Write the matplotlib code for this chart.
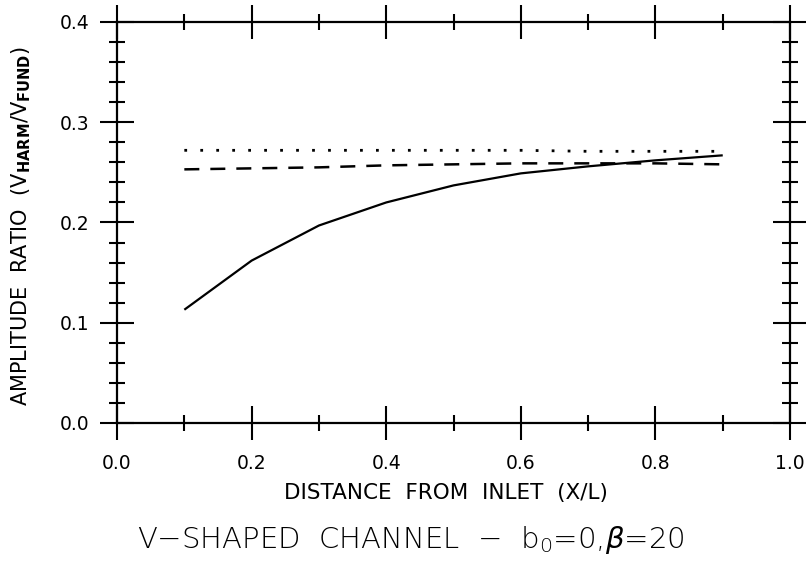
import matplotlib
matplotlib.use("Agg")
import matplotlib.pyplot as plt
from matplotlib.ticker import MultipleLocator

plt.rcParams['font.family'] = ['DejaVu Sans']
plt.rcParams['mathtext.default'] = 'regular'

x = [0.1, 0.2, 0.3, 0.4, 0.5, 0.6, 0.7, 0.8, 0.9]
solid = [0.113, 0.162, 0.197, 0.220, 0.237, 0.249, 0.256, 0.262, 0.267]
dashed = [0.253, 0.254, 0.255, 0.257, 0.258, 0.259, 0.259, 0.259, 0.258]
dotted = [0.272, 0.272, 0.272, 0.272, 0.272, 0.272, 0.271, 0.271, 0.271]

xticks = [0.0, 0.2, 0.4, 0.6, 0.8, 1.0]
yticks = [0.0, 0.1, 0.2, 0.3, 0.4]

fig = plt.figure(figsize=(8.06, 5.64), dpi=100)
ax = fig.add_axes([0.1452, 0.25, 0.835, 0.711])

ax.plot(x, solid, color='black', lw=1.6, solid_capstyle='butt')
ax.plot(x, dashed, color='black', lw=1.8, linestyle=(0, (6, 4.4)))
ax.plot(x, dotted, color='black', lw=2.0, linestyle=(0, (1, 4.75)))

ax.set_xlim(0, 1.0)
ax.set_ylim(0, 0.4)
ax.set_xticks(xticks)
ax.set_yticks(yticks)
ax.set_xticklabels([f"{v:.1f}" for v in xticks])
ax.set_yticklabels([f"{v:.1f}" for v in yticks])
ax.xaxis.set_minor_locator(MultipleLocator(0.1))
ax.yaxis.set_minor_locator(MultipleLocator(0.02))

for s in ax.spines.values():
    s.set_linewidth(1.6)

ax.tick_params(which='major', direction='inout', length=24, width=1.5,
               top=True, right=True, labelsize=13.5)
ax.tick_params(which='minor', direction='inout', length=12, width=1.5,
               top=True, right=True)
ax.tick_params(axis='x', which='major', pad=10)
ax.tick_params(axis='y', which='major', pad=8)

ax.set_xlabel("DISTANCE  FROM  INLET  (X/L)", fontsize=15.5, va='top')
ax.xaxis.set_label_coords(0.489, -0.150)
ax.set_ylabel(r"AMPLITUDE  RATIO  (V$_{\mathbf{HARM}}$/V$_{\mathbf{FUND}}$)",
              fontsize=15)
ax.yaxis.set_label_coords(-0.125, 0.49)

fig.text(0.51, 0.043, r"V−SHAPED  CHANNEL  −  b$_0$=0,$\mathit{\beta}$=20",
         ha='center', va='center', fontsize=21, fontweight='light')

fig.savefig("out.png", dpi=100)
